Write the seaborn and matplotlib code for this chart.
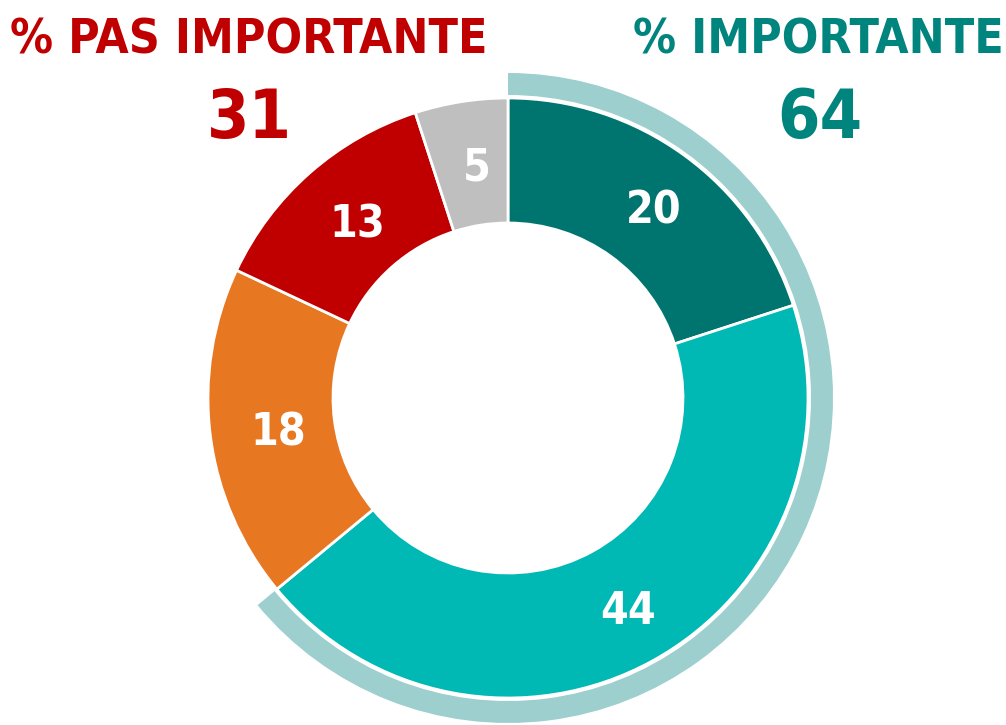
import numpy as np
import matplotlib.pyplot as plt
import seaborn as sns

# Donut values, clockwise from 12 o'clock
segments = ['Très important', 'Assez important', 'Peu important', 'Pas du tout important', 'NSP']
values = [20, 44, 18, 13, 5]
seg_colors = ['#00756F', '#00B8B4', '#E87722', '#C00000', '#BFBFBF']

important_total = 64
not_important_total = 31
arc_color = '#9CCFCD'
teal_title = '#00847E'
red_title = '#C00000'

sns.set_theme(style='white')
plt.rcParams['font.family'] = ['DejaVu Sans']

fig = plt.figure(figsize=(10.06, 7.25), dpi=100)
ax = fig.add_axes([0, 0, 1, 1])

center = (508, 327)

# main donut
ax.pie(values, colors=seg_colors, startangle=90, counterclock=False,
       radius=300, center=center, frame=True,
       wedgeprops=dict(width=125, edgecolor='white', linewidth=2))

# outer highlight arc for the "important" share
ax.pie([important_total, 100 - important_total], colors=[arc_color, 'none'],
       startangle=90, counterclock=False, radius=325, center=center, frame=True,
       wedgeprops=dict(width=22, edgecolor='none'))

ax.set_xlim(0, 1006)
ax.set_ylim(0, 725)
ax.set_aspect('equal')
ax.axis('off')

# segment labels at the middle of the ring (original sits them a touch right/low)
mid_r = 237.5
cum = 0
for v in values:
    ang = np.deg2rad(90 - (cum + v / 2) * 3.6)
    cum += v
    ax.text(center[0] + mid_r * np.cos(ang) + 6, center[1] + mid_r * np.sin(ang) - 5, str(v),
            ha='center', va='center', color='white', fontsize=32, fontweight='bold',
            fontstretch='condensed')

# headers
hdr = dict(ha='center', va='baseline', fontweight='bold', fontstretch='condensed')
ax.text(249, 672, '% PAS IMPORTANTE', color=red_title, fontsize=34.5, **hdr)
ax.text(249, 587, str(not_important_total), color=red_title, fontsize=49, **hdr)
ax.text(818, 672, '% IMPORTANTE', color=teal_title, fontsize=34.5, **hdr)
ax.text(820, 587, str(important_total), color=teal_title, fontsize=49, **hdr)

fig.savefig('out.png', dpi=100, facecolor='white')
